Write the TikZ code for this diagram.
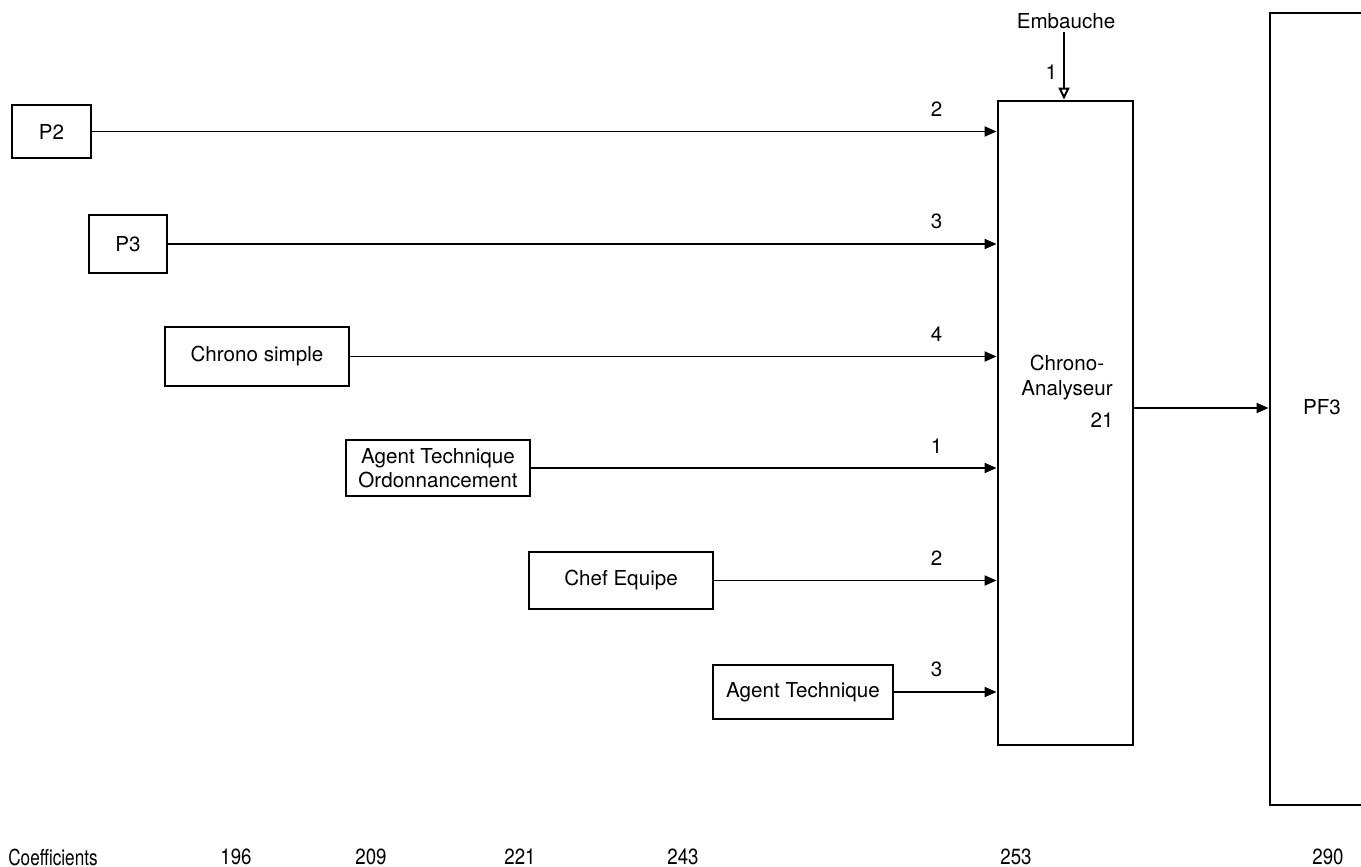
\documentclass[tikz,border=0pt]{standalone}
\usepackage{fontspec}
\usepackage{graphicx}
\setmainfont{TeX Gyre Heros}
\usetikzlibrary{arrows.meta}
\begin{document}
\begin{tikzpicture}[x=0.5pt,y=-0.5pt,
  box/.style={draw, line width=1.4pt, inner sep=0pt, font=\fontsize{10.3}{12}\selectfont, align=center},
  txt/.style={inner sep=0pt, font=\fontsize{10.3}{12.5}\selectfont, align=center},
  lbl/.style={txt, pos=1, above=7pt, xshift=-30pt},
  coefstyle/.style={inner sep=0pt, font=\fontsize{11}{13}\selectfont},
  arr/.style={line width=0.9pt, -{Triangle[length=6pt,width=5pt]}},
  oarr/.style={line width=0.9pt, -{Triangle[open,length=6pt,width=5.5pt,line width=1pt]}}]
\useasboundingbox (0,0) rectangle (1361,867);
\clip (0,0) rectangle (1361,867);
% main boxes
\node[box, minimum width=67.5pt, minimum height=322pt] (ca) at (1065.5,423) {};
\node[box, minimum width=65pt, minimum height=396pt] (pf3) at (1335,409) {};
% source boxes
\node[box, minimum width=39.5pt, minimum height=26.5pt] (p2) at (51.5,131.5) {P2};
\node[box, minimum width=39pt, minimum height=29pt] (p3) at (128,244) {P3};
\node[box, minimum width=92pt, minimum height=29.5pt] (cs) at (257,356.5) {Chrono simple};
\node[box, minimum width=92pt, minimum height=28pt] (ato) at (438,468) {Agent Technique\\Ordonnancement};
\node[box, minimum width=92pt, minimum height=28.5pt] (ce) at (621,580.5) {Chef Equipe};
\node[box, minimum width=90pt, minimum height=27pt] (at) at (803,692) {Agent Technique};
% texts
\node[txt] (catext) at (1067,378) {Chrono-\\Analyseur};
\node[txt] (ca21) at (1102,420) {21};
\node[txt] (pf3text) at (1322,407) {PF3};
\node[txt] (emb) at (1066,21) {Embauche};
% connectors
\draw[arr] (p2.east) -- (p2.east -| ca.west) node[lbl] (l1) {2};
\draw[arr] (p3.east) -- (p3.east -| ca.west) node[lbl] (l2) {3};
\draw[arr] (cs.east) -- (cs.east -| ca.west) node[lbl] (l3) {4};
\draw[arr] (ato.east) -- (ato.east -| ca.west) node[lbl] (l4) {1};
\draw[arr] (ce.east) -- (ce.east -| ca.west) node[lbl] (l5) {2};
\draw[arr] (at.east) -- (at.east -| ca.west) node[lbl] (l6) {3};
\draw[arr] (ca.east |- 0,408) -- (pf3.west |- 0,408);
\coordinate (embtop) at (1064,32);
\draw[oarr] (embtop) -- (embtop |- ca.north) node[txt, pos=0.6, left=3pt] (l0) {1};
% coefficients row
\node[coefstyle] (coef) at (53,857) {\scalebox{0.78}[1]{Coefficients}};
\node[coefstyle] (c1) at (236,857) {\scalebox{0.85}[1]{196}};
\node[coefstyle] (c2) at (371,857) {\scalebox{0.85}[1]{209}};
\node[coefstyle] (c3) at (520,857) {\scalebox{0.85}[1]{221}};
\node[coefstyle] (c4) at (683,857) {\scalebox{0.85}[1]{243}};
\node[coefstyle] (c5) at (1016,857) {\scalebox{0.85}[1]{253}};
\node[coefstyle] (c6) at (1328,857) {\scalebox{0.85}[1]{290}};
\end{tikzpicture}
\end{document}
